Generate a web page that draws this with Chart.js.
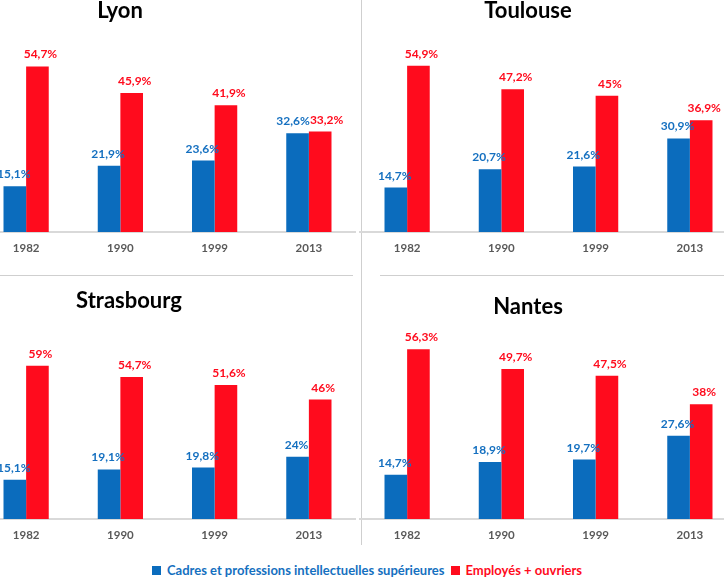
<!DOCTYPE html>
<html>
<head>
<meta charset="utf-8">
<script src="https://cdn.jsdelivr.net/npm/chart.js@4/dist/chart.umd.min.js"></script>
<style>
  html, body { margin: 0; padding: 0; background: #fff; }
  body { position: relative; width: 724px; height: 583px; overflow: hidden; font-family: Lato, sans-serif; }
  canvas { position: absolute; }
  .vline { position: absolute; left: 361px; top: 0; width: 1px; height: 545px; background: #cfcfcf; }
  .hline { position: absolute; top: 275px; height: 1px; background: #cfcfcf; }
  #legend { position: absolute; left: 5px; width: 724px; top: 562px; text-align: center; font: bold 13px Lato, sans-serif; white-space: nowrap; }
  #legend .sq { display: inline-block; width: 9px; height: 9px; margin-right: 6px; vertical-align: 0px; }
  #legend .item { margin: 0 3px; }
</style>
</head>
<body>
<div class="vline"></div>
<div class="hline" style="left:0;width:353px"></div>
<div class="hline" style="left:380px;width:344px"></div>
<canvas id="lyon"></canvas>
<canvas id="toulouse"></canvas>
<canvas id="strasbourg"></canvas>
<canvas id="nantes"></canvas>
<div id="legend"></div>

<script>
// categories
var years = ['1982', '1990', '1999', '2013'];
var seriesNames = ['Cadres et professions intellectuelles supérieures', 'Employés + ouvriers'];

// values (%)
var lyonCadres = [15.1, 21.9, 23.6, 32.6];
var lyonEmployes = [54.7, 45.9, 41.9, 33.2];
var toulouseCadres = [14.7, 20.7, 21.6, 30.9];
var toulouseEmployes = [54.9, 47.2, 45, 36.9];
var strasbourgCadres = [15.1, 19.1, 19.8, 24];
var strasbourgEmployes = [59, 54.7, 51.6, 46];
var nantesCadres = [14.7, 18.9, 19.7, 27.6];
var nantesEmployes = [56.3, 49.7, 47.5, 38];

var barColors = ['#0b6cbd', '#ff0b1d'];
var labelColors = ['#1570c0', '#ff0b1d'];

// where each small chart sits on the page
var panels = [
  { id: 'lyon', title: 'Lyon', cadres: lyonCadres, employes: lyonEmployes, areaLeft: -21, padL: 95, titleY: 11, base: 232, pxPer: 3.03 },
  { id: 'toulouse', title: 'Toulouse', cadres: toulouseCadres, employes: toulouseEmployes, areaLeft: 360, padL: 41, titleY: 11, base: 232, pxPer: 3.03 },
  { id: 'strasbourg', title: 'Strasbourg', cadres: strasbourgCadres, employes: strasbourgEmployes, areaLeft: -21, padL: 77, titleY: 301, base: 519, pxPer: 2.6 },
  { id: 'nantes', title: 'Nantes', cadres: nantesCadres, employes: nantesEmployes, areaLeft: 360, padL: 41, titleY: 307, base: 519, pxPer: 3.02 }
];
var areaW = 377, axisH = 30, titleSize = 22, titleGap = 6;
var labelShift = [-1, 3];

function fmt(v) {
  return String(v).replace('.', ',') + '%';
}

var valueLabels = {
  id: 'valueLabels',
  afterDatasetsDraw: function (chart) {
    var ctx = chart.ctx;
    ctx.save();
    ctx.font = 'bold 12px Lato, sans-serif';
    ctx.textAlign = 'center';
    ctx.textBaseline = 'alphabetic';
    var blue = chart.getDatasetMeta(0).data, red = chart.getDatasetMeta(1).data;
    var d0 = chart.data.datasets[0].data, d1 = chart.data.datasets[1].data;
    blue.forEach(function (b, j) {
      var r = red[j];
      var t0 = fmt(d0[j]), t1 = fmt(d1[j]);
      var w0 = ctx.measureText(t0).width, w1 = ctx.measureText(t1).width;
      var x0 = b.x + labelShift[0], x1 = r.x + labelShift[1];
      // push the two labels apart when they sit at the same height and touch
      if (Math.abs(b.y - r.y) < 14) {
        var over = (x0 + w0 / 2) - (x1 - w1 / 2);
        if (over > 0) { x0 -= over / 2; x1 += over / 2; }
      }
      ctx.fillStyle = labelColors[0];
      ctx.fillText(t0, x0, b.y - 8);
      ctx.fillStyle = labelColors[1];
      ctx.fillText(t1, x1, r.y - 8);
    });
    ctx.restore();
  }
};

panels.forEach(function (p) {
  var canvas = document.getElementById(p.id);
  var top = p.titleY - titleSize * 1.2 / 2;
  var h = Math.round(p.base - top + axisH);
  var w = p.padL + areaW;
  canvas.width = w;
  canvas.height = h;
  canvas.style.left = (p.areaLeft - p.padL) + 'px';
  canvas.style.top = top + 'px';
  var plotH = p.base - (top + titleSize * 1.2 + titleGap);
  var ymax = plotH / p.pxPer;

  new Chart(canvas.getContext('2d'), {
    type: 'bar',
    data: {
      labels: years,
      datasets: [
        { label: seriesNames[0], data: p.cadres, backgroundColor: barColors[0], categoryPercentage: 0.48, barPercentage: 1 },
        { label: seriesNames[1], data: p.employes, backgroundColor: barColors[1], categoryPercentage: 0.48, barPercentage: 1 }
      ]
    },
    options: {
      responsive: false,
      animation: false,
      devicePixelRatio: 1,
      layout: { padding: 0 },
      plugins: {
        legend: { display: false },
        tooltip: { enabled: false },
        title: {
          display: true,
          text: p.title,
          color: '#000',
          font: { family: 'Lato', size: titleSize, weight: 'bold' },
          padding: { top: 0, bottom: titleGap }
        }
      },
      scales: {
        x: {
          grid: { display: false, drawTicks: false },
          border: { display: true, color: '#d9d9d9', width: 2 },
          ticks: { color: '#595959', font: { family: 'Lato', size: 11.5, weight: 'bold' }, padding: 9 },
          afterFit: function (s) { s.height = axisH; }
        },
        y: {
          min: 0,
          max: ymax,
          grid: { display: false },
          border: { display: false },
          ticks: { display: false },
          afterFit: function (s) { s.width = p.padL; }
        }
      }
    },
    plugins: [valueLabels]
  });
});

// legend under the four charts
var legend = document.getElementById('legend');
seriesNames.forEach(function (name, i) {
  var item = document.createElement('span');
  item.className = 'item';
  item.style.color = labelColors[i];
  item.innerHTML = '<span class="sq" style="background:' + barColors[i] + '"></span>' + name;
  legend.appendChild(item);
});
</script>
</body>
</html>
